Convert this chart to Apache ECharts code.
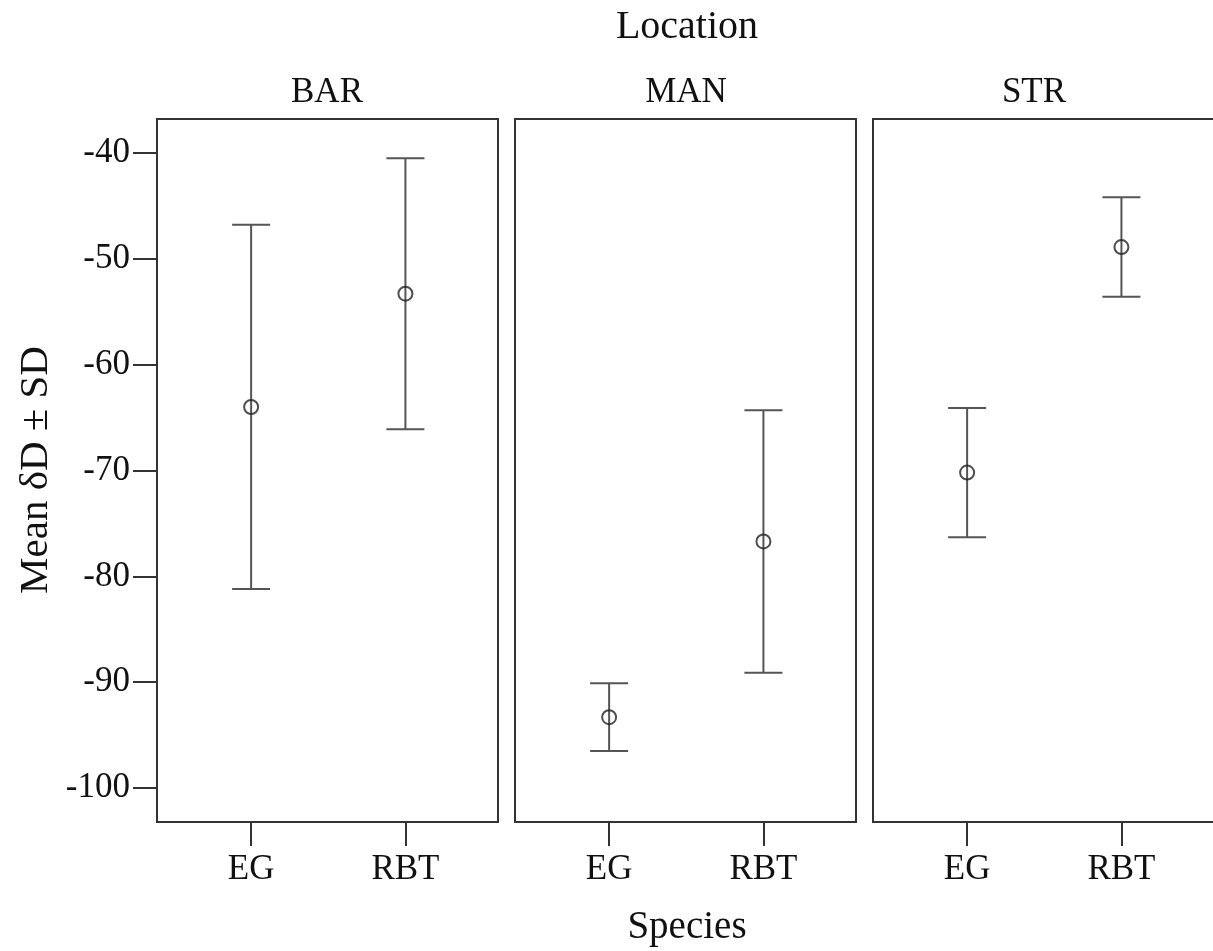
<!DOCTYPE html>
<html>
<head>
<meta charset="UTF-8">
<title>Mean δD ± SD by Location and Species</title>
<script src="https://cdn.jsdelivr.net/npm/echarts@6.0.0/dist/echarts.min.js"></script>
<style>
  html, body { margin: 0; padding: 0; background: #fff; overflow: hidden; }
  /* a bit wider than the window so the last panel runs off the right edge */
  #chart { width: 1230px; height: 951px; }
</style>
</head>
<body>
<div id="chart"></div>
<script>
// values
const locations = ['BAR', 'MAN', 'STR'];
const species = ['EG', 'RBT'];
const meanBAR = [-64.0, -53.3];
const meanMAN = [-93.3, -76.7];
const meanSTR = [-70.2, -48.9];
const sdBAR = [17.2, 12.8];
const sdMAN = [3.2, 12.4];
const sdSTR = [6.1, 4.7];
const yTicks = [-100, -90, -80, -70, -60, -50, -40];

const means = [meanBAR, meanMAN, meanSTR];
const sds = [sdBAR, sdMAN, sdSTR];

const FONT = 'Liberation Serif';
const INK = '#222';
const panelLeft = [157, 515, 873];

const chart = echarts.init(document.getElementById('chart'));

const grids = [], xAxes = [], yAxes = [], series = [];
locations.forEach((loc, i) => {
  grids.push({
    left: panelLeft[i], top: 119, width: 341, height: 703,
    show: true, borderColor: '#333', borderWidth: 2, backgroundColor: 'transparent'
  });
  xAxes.push({
    gridIndex: i, type: 'value', min: -0.61, max: 1.6,
    splitLine: { show: false },
    axisLine: { show: false, onZero: false },
    axisTick: { show: true, customValues: [0, 1], length: 24, lineStyle: { color: '#333', width: 2 } },
    axisLabel: {
      customValues: [0, 1], margin: 30,
      formatter: v => species[Math.round(v)],
      fontFamily: FONT, fontSize: 35, color: '#111'
    }
  });
  yAxes.push({
    gridIndex: i, type: 'value', min: -103.2, max: -36.8,
    splitLine: { show: false },
    axisLine: { show: false, onZero: false },
    axisTick: { show: i === 0, customValues: yTicks, length: 24, lineStyle: { color: '#333', width: 2 } },
    axisLabel: {
      show: i === 0, customValues: yTicks, margin: 27,
      fontFamily: FONT, fontSize: 35, color: '#111'
    }
  });
  const bars = species.map((s, j) => [j, means[i][j] - sds[i][j], means[i][j] + sds[i][j]]);
  series.push({
    type: 'custom', xAxisIndex: i, yAxisIndex: i, data: bars,
    renderItem: (params, api) => {
      const x = api.value(0);
      const lo = api.coord([x, api.value(1)]);
      const hi = api.coord([x, api.value(2)]);
      const half = 19;
      const st = { stroke: '#555', lineWidth: 2 };
      return {
        type: 'group',
        children: [
          { type: 'line', shape: { x1: lo[0], y1: lo[1], x2: hi[0], y2: hi[1] }, style: st },
          { type: 'line', shape: { x1: lo[0] - half, y1: lo[1], x2: lo[0] + half, y2: lo[1] }, style: st },
          { type: 'line', shape: { x1: hi[0] - half, y1: hi[1], x2: hi[0] + half, y2: hi[1] }, style: st }
        ]
      };
    },
    silent: true
  });
  series.push({
    type: 'scatter', xAxisIndex: i, yAxisIndex: i,
    data: species.map((s, j) => [j, means[i][j]]),
    symbol: 'circle', symbolSize: 14,
    itemStyle: { color: 'transparent', borderColor: INK, borderWidth: 2 },
    silent: true, z: 5
  });
});

const txt = (text, x, y, size, rot) => ({
  type: 'text', x: x, y: y, rotation: rot || 0,
  style: { text: text, fontFamily: FONT, fontSize: size, fill: '#111', textAlign: 'center', textVerticalAlign: 'middle' }
});

chart.setOption({
  animation: false,
  backgroundColor: '#fff',
  grid: grids,
  xAxis: xAxes,
  yAxis: yAxes,
  series: series,
  graphic: [
    txt('Location', 687, 27, 40),
    txt(locations[0], 327, 93, 35),
    txt(locations[1], 686, 93, 35),
    txt(locations[2], 1034, 93, 35),
    txt('Species', 687, 928, 39),
    txt('Mean δD ± SD', 36, 470, 41, Math.PI / 2)
  ]
});
</script>
</body>
</html>
